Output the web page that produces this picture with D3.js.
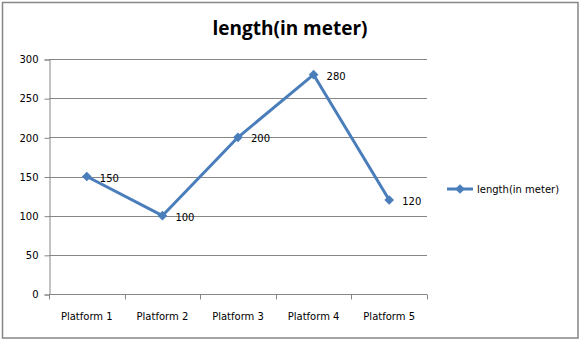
<!DOCTYPE html>
<html>
<head>
<meta charset="utf-8">
<script src="https://cdn.jsdelivr.net/npm/d3@7"></script>
<style>
  body { margin: 0; background: #fff; }
  text { font-family: "DejaVu Sans", sans-serif; }
</style>
</head>
<body>
<div id="chart"></div>
<script>
const WIDTH = 581;
const HEIGHT = 341;

const categories = ['Platform 1', 'Platform 2', 'Platform 3', 'Platform 4', 'Platform 5'];
const values = [150, 100, 200, 280, 120];
const yTicks = [0, 50, 100, 150, 200, 250, 300];
const seriesName = 'length(in meter)';

const LINE = '#4a7ebb';
const GRID = '#868686';

const plot = { left: 49, right: 427, top: 59, bottom: 294 };

const svg = d3.select('#chart')
  .append('svg')
  .attr('width', WIDTH)
  .attr('height', HEIGHT);

// outer frame
svg.append('rect')
  .attr('x', 2.5).attr('y', 2.5)
  .attr('width', 575.5).attr('height', 335.5)
  .attr('fill', '#fff')
  .attr('stroke', GRID)
  .attr('stroke-width', 1.5);

// title
svg.append('text')
  .attr('x', 290).attr('y', 35)
  .attr('text-anchor', 'middle')
  .style('font-family', '"Open Sans", sans-serif')
  .style('font-size', '19px')
  .style('font-weight', 'bold')
  .text(seriesName);

const x = d3.scaleBand()
  .domain(categories)
  .range([plot.left, plot.right]);

const y = d3.scaleLinear()
  .domain([0, 300])
  .range([plot.bottom, plot.top]);

// gridlines
svg.append('g')
  .selectAll('line')
  .data(yTicks)
  .enter()
  .append('line')
  .attr('x1', plot.left).attr('x2', plot.right)
  .attr('y1', d => Math.round(y(d)) + 0.5)
  .attr('y2', d => Math.round(y(d)) + 0.5)
  .attr('stroke', GRID);

// y axis
const yAxis = svg.append('g')
  .attr('transform', `translate(${plot.left + 0.5},0.5)`)
  .call(d3.axisLeft(y).tickValues(yTicks).tickSize(5).tickPadding(6));
yAxis.select('.domain').attr('stroke', GRID);
yAxis.selectAll('.tick line').attr('stroke', GRID);
yAxis.selectAll('.tick text')
  .style('font-size', '10px')
  .style('font-family', '"DejaVu Sans", sans-serif')
  .attr('fill', '#000');

// x axis with boundary ticks
const xAxis = svg.append('g')
  .attr('transform', `translate(0,${plot.bottom + 0.5})`);
xAxis.append('line')
  .attr('x1', plot.left).attr('x2', plot.right)
  .attr('stroke', GRID);
const bounds = categories.map(c => x(c)).concat([plot.right]);
xAxis.selectAll('line.tk')
  .data(bounds)
  .enter()
  .append('line')
  .attr('class', 'tk')
  .attr('x1', d => Math.round(d) + 0.5).attr('x2', d => Math.round(d) + 0.5)
  .attr('y1', 0).attr('y2', 5)
  .attr('stroke', GRID);
xAxis.selectAll('text')
  .data(categories)
  .enter()
  .append('text')
  .attr('x', d => x(d) + x.bandwidth() / 2)
  .attr('y', 25)
  .attr('text-anchor', 'middle')
  .style('font-size', '10px')
  .text(d => d);

// series line
const pts = categories.map((c, i) => ({ c, v: values[i] }));
const line = d3.line()
  .x(d => x(d.c) + x.bandwidth() / 2)
  .y(d => y(d.v));

svg.append('path')
  .datum(pts)
  .attr('d', line)
  .attr('fill', 'none')
  .attr('stroke', LINE)
  .attr('stroke-width', 3)
  .attr('stroke-linejoin', 'round');

const diamond = d3.symbol().type(d3.symbolDiamond2).size(60);

svg.append('g')
  .selectAll('path')
  .data(pts)
  .enter()
  .append('path')
  .attr('d', diamond)
  .attr('transform', d => `translate(${x(d.c) + x.bandwidth() / 2},${y(d.v)})`)
  .attr('fill', LINE);

// data labels
svg.append('g')
  .selectAll('text')
  .data(pts)
  .enter()
  .append('text')
  .attr('x', d => x(d.c) + x.bandwidth() / 2 + 13)
  .attr('y', d => y(d.v) + 5)
  .style('font-size', '10px')
  .text(d => d.v);

// legend
const lg = svg.append('g').attr('transform', 'translate(447,189)');
lg.append('line')
  .attr('x1', 0).attr('x2', 26)
  .attr('stroke', LINE).attr('stroke-width', 3);
lg.append('path')
  .attr('d', diamond)
  .attr('transform', 'translate(13,0)')
  .attr('fill', LINE);
lg.append('text')
  .attr('x', 30).attr('y', 4)
  .style('font-size', '10px')
  .text(seriesName);
</script>
</body>
</html>
